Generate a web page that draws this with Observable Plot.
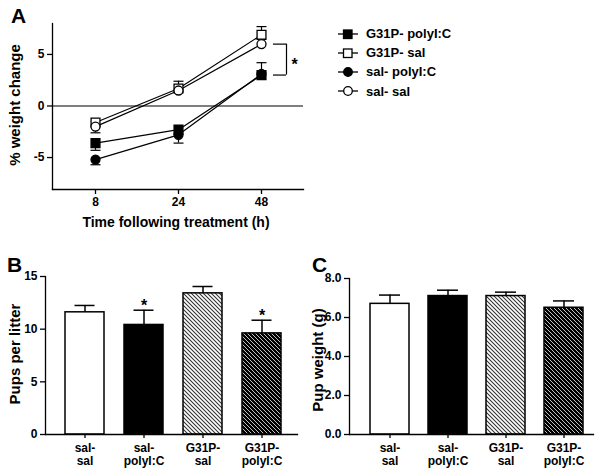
<!DOCTYPE html>
<html><head><meta charset="utf-8">
<script src="https://cdn.jsdelivr.net/npm/d3@7"></script>
<script src="https://cdn.jsdelivr.net/npm/@observablehq/plot@0.6"></script>
<style>
body{margin:0;background:#fff;}
#fig{position:relative;width:601px;height:474px;background:#fff;font-family:"Liberation Sans",Arial,Helvetica,sans-serif;font-weight:bold;color:#000;overflow:hidden}
.panel{position:absolute}
.panel svg{overflow:visible}
.letter{position:absolute;font-size:21px;font-weight:bold;line-height:1}
.ylab{position:absolute;transform:translate(-50%,-50%) rotate(-90deg);white-space:nowrap;font-size:15px;line-height:1}
.xlab{position:absolute;transform:translate(-50%,-50%);white-space:nowrap;font-size:14px;line-height:1}
.leg{position:absolute;left:337px;top:24px;font-size:13px}
.leg div{height:19.2px;display:flex;align-items:center;white-space:nowrap}
.leg svg{margin-right:7px}
</style></head><body>
<div id="fig"></div>
<script>
// ---------- Panel A data ----------
const timeLabels = ["8", "24", "48"];
const seriesNames = ["G31P- polyI:C", "G31P- sal", "sal- polyI:C", "sal- sal"];
const wG31PpolyIC = [-3.6, -2.3, 3.0];
const wG31Psal    = [-1.6, 1.7, 6.9];
const wSalpolyIC  = [-5.2, -2.8, 3.1];
const wSalsal     = [-2.0, 1.5, 6.0];
// error-bar end values (null = no visible bar)
const eG31PpolyIC = [-4.3, null, 4.2];
const eG31Psal    = [null, 2.4, 7.7];
const eSalpolyIC  = [-5.7, -3.6, null];
const eSalsal     = [-2.6, null, null];
const seriesValues = [wG31PpolyIC, wG31Psal, wSalpolyIC, wSalsal];
const seriesEnds = [eG31PpolyIC, eG31Psal, eSalpolyIC, eSalsal];

// ---------- Panels B & C data ----------
const groups = ["sal-\nsal", "sal-\npolyI:C", "G31P-\nsal", "G31P-\npolyI:C"];
const pupsPerLitter = [11.6, 10.4, 13.4, 9.6];
const pupsPerLitterErr = [12.25, 11.8, 14.05, 10.85];
const pupsSignificant = [false, true, false, true];
const pupWeight = [6.7, 7.1, 7.1, 6.5];
const pupWeightErr = [7.15, 7.4, 7.3, 6.85];

// ---------- styles ----------
const seriesSymbol = ["square", "square", "circle", "circle"];
const seriesFilled = [true, false, true, false];
const barFills = ["#fff", "#000", "url(#hatchLight)", "url(#hatchDark)"];
const FONT = '"Liberation Sans", Arial, Helvetica, sans-serif';
const capSym = w => ({draw(ctx) { ctx.moveTo(-w, 0); ctx.lineTo(w, 0); }});

const fig = d3.select("#fig");

// pattern defs
const defs = fig.append("svg").attr("width", 0).attr("height", 0)
  .style("position", "absolute").append("defs");
function hatch(id, bg, fg, sw) {
  const p = defs.append("pattern").attr("id", id).attr("patternUnits", "userSpaceOnUse")
    .attr("width", 4).attr("height", 4);
  p.append("rect").attr("width", 4).attr("height", 4).attr("fill", bg);
  p.append("path").attr("d", "M0,0L4,4M-1,3L1,5M3,-1L5,1").attr("stroke", fg).attr("stroke-width", sw);
}
hatch("hatchLight", "#fff", "#333", 1.1);
hatch("hatchDark", "#000", "#d8d8d8", 0.9);

function place(node, left, top) {
  const div = fig.append("div").attr("class", "panel").style("left", left + "px").style("top", top + "px");
  div.node().appendChild(node);
}
function label(cls, text, left, top, extra) {
  fig.append("div").attr("class", cls).style("left", left + "px").style("top", top + "px").text(text);
}

// ---------- Panel A ----------
const rowsA = seriesNames.flatMap((s, si) => timeLabels.map((t, ti) => ({
  s, si, t, v: seriesValues[si][ti], end: seriesEnds[si][ti]
})));
const errA = rowsA.filter(d => d.end != null);
const marksA = [
  Plot.ruleY([0], {stroke: "#000", strokeWidth: 1.2}),
  Plot.frame({anchor: "left", strokeWidth: 1.3}),
  Plot.frame({anchor: "bottom", strokeWidth: 1.3}),
  Plot.axisY({ticks: [-5, 0, 5], tickFormat: d => String(d), tickSize: 5, tickPadding: 3, strokeWidth: 1.3, label: null}),
  Plot.axisX({tickSize: 5, tickPadding: 3, strokeWidth: 1.3, label: null})
];
seriesNames.forEach((s, si) => {
  marksA.push(Plot.line(rowsA.filter(d => d.si === si), {x: "t", y: "v", stroke: "#000", strokeWidth: 1.2}));
});
marksA.push(Plot.ruleX(errA, {x: "t", y1: "v", y2: "end", stroke: "#000", strokeWidth: 1.2}));
marksA.push(Plot.dot(errA, {x: "t", y: "end", symbol: capSym(5), fill: "none", stroke: "#000", strokeWidth: 1.2}));
seriesNames.forEach((s, si) => {
  marksA.push(Plot.dot(rowsA.filter(d => d.si === si), {
    x: "t", y: "v", symbol: seriesSymbol[si], r: seriesSymbol[si] === "square" ? 5 : 4.5,
    fill: seriesFilled[si] ? "#000" : "#fff", stroke: "#000", strokeWidth: 1.3
  }));
});
// significance bracket between sal-sal and G31P-polyI:C at 48 h
const last = timeLabels[timeLabels.length - 1];
const bracket = [{t: last, lo: wG31PpolyIC[2], hi: wSalsal[2]}];
const bracketArms = [{t: last, y: wG31PpolyIC[2]}, {t: last, y: wSalsal[2]}];
marksA.push(Plot.ruleY(bracketArms, {x1: "t", x2: "t", y: "y", insetLeft: 12, insetRight: -25, stroke: "#000", strokeWidth: 1.2}));
marksA.push(Plot.ruleX(bracket, {x: "t", y1: "lo", y2: "hi", dx: 25, stroke: "#000", strokeWidth: 1.2}));
marksA.push(Plot.text(bracket, {x: "t", y: d => (d.lo + d.hi) / 2, text: () => "*", dx: 33, dy: 5, fontSize: 16, fontWeight: "bold"}));

const plotA = Plot.plot({
  width: 340, height: 235, marginLeft: 52, marginRight: 37, marginTop: 23, marginBottom: 46,
  x: {type: "point", domain: timeLabels, padding: 0.5},
  y: {domain: [-8.1, 8]},
  style: {fontFamily: FONT, fontSize: "12px", fontWeight: "bold", background: "transparent", color: "#000"},
  marks: marksA
});
place(plotA, 0, 0);

// ---------- Bar panel helper ----------
function barPanel({values, ends, stars, yDomain, yTicks, yFormat, width, height, margins, band, cap}) {
  const data = groups.map((g, i) => ({g, v: values[i], end: ends[i], i}));
  const marks = [
    Plot.barY(data, {x: "g", y: "v", fill: d => barFills[d.i], stroke: "#000", strokeWidth: 1.5}),
    Plot.ruleX(data, {x: "g", y1: "v", y2: "end", stroke: "#000", strokeWidth: 1.5}),
    Plot.tickY(data, {x: "g", y: "end", stroke: "#000", strokeWidth: 1.5, inset: cap}),
    Plot.frame({anchor: "left", strokeWidth: 1.3}),
    Plot.frame({anchor: "bottom", strokeWidth: 1.3}),
    Plot.axisY({ticks: yTicks, tickFormat: yFormat, tickSize: 5, tickPadding: 3, strokeWidth: 1.3, label: null}),
    Plot.axisX({tickSize: 4, tickPadding: 4, strokeWidth: 1.3, label: null, lineHeight: 1.1})
  ];
  if (stars) marks.push(Plot.text(data.filter(d => stars[d.i]), {x: "g", y: "end", text: () => "*", dy: -4, fontSize: 16, fontWeight: "bold"}));
  return Plot.plot({
    width, height, ...margins,
    x: {type: "band", domain: groups, ...band},
    y: {domain: yDomain},
    color: {type: "identity"},
    style: {fontFamily: FONT, fontSize: "12px", fontWeight: "bold", background: "transparent", color: "#000"},
    marks
  });
}

const plotB = barPanel({
  values: pupsPerLitter, ends: pupsPerLitterErr, stars: pupsSignificant,
  yDomain: [0, 15], yTicks: [0, 5, 10, 15], yFormat: d => String(d),
  width: 300, height: 224,
  margins: {marginLeft: 45, marginRight: 3, marginTop: 26, marginBottom: 40},
  band: {paddingInner: 0.34, paddingOuter: 0.305, align: 0.55}, cap: 9.5
});
place(plotB, 0, 250);

const plotC = barPanel({
  values: pupWeight, ends: pupWeightErr, stars: null,
  yDomain: [0, 8], yTicks: [0, 2, 4, 6, 8], yFormat: d => d.toFixed(1),
  width: 301, height: 224,
  margins: {marginLeft: 49, marginRight: 8, marginTop: 28, marginBottom: 40},
  band: {paddingInner: 0.325, paddingOuter: 0.248, align: 0.67}, cap: 9
});
place(plotC, 300, 250);

// ---------- text labels ----------
label("letter", "A", 11, 5);
label("letter", "B", 7, 254);
label("letter", "C", 312, 254);
label("ylab", "% weight change", 14, 105);
label("ylab", "Pups per litter", 14, 354);
label("ylab", "Pup weight (g)", 317, 360);
label("xlab", "Time following treatment (h)", 176, 222);

// ---------- legend ----------
const leg = fig.append("div").attr("class", "leg");
seriesNames.forEach((s, si) => {
  const row = leg.append("div");
  const sv = row.append("svg").attr("width", 22).attr("height", 12);
  sv.append("line").attr("x1", 1).attr("x2", 21).attr("y1", 6).attr("y2", 6).attr("stroke", "#000").attr("stroke-width", 1.3);
  const fill = seriesFilled[si] ? "#000" : "#fff";
  if (seriesSymbol[si] === "square") sv.append("rect").attr("x", 6.5).attr("y", 2).attr("width", 8.5).attr("height", 8.5).attr("fill", fill).attr("stroke", "#000").attr("stroke-width", 1.3);
  else sv.append("circle").attr("cx", 11).attr("cy", 6).attr("r", 4.3).attr("fill", fill).attr("stroke", "#000").attr("stroke-width", 1.3);
  row.append("span").text(s);
});
</script>
</body></html>
